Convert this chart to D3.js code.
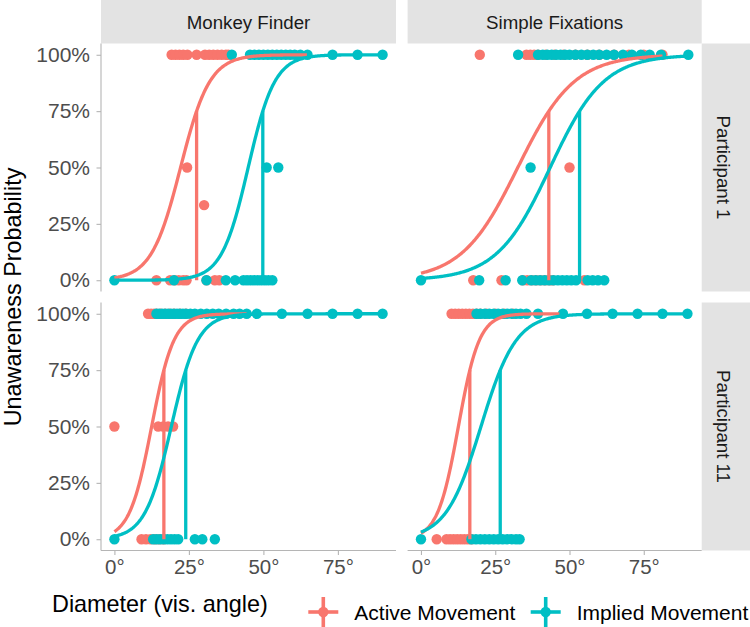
<!DOCTYPE html>
<html>
<head>
<meta charset="utf-8">
<script src="https://cdn.jsdelivr.net/npm/d3@7"></script>
<style>
  body { margin: 0; background: #fff; }
  svg { display: block; font-family: "Liberation Sans", Arial, sans-serif; }
</style>
</head>
<body>
<div id="container"></div>
<script>
// facets + series
let tasks = ["Monkey Finder", "Simple Fixations"];
let participants = ["Participant 1", "Participant 11"];
let conditions = ["Active Movement", "Implied Movement"];
let colors = ["#F8766D", "#00BFC4"];
let xTicks = [0, 25, 50, 75];
let yTicks = [0, 0.25, 0.5, 0.75, 1];

// observed points [diameter, unaware prob]
let mfP1Active = [
  [19.2,1],[20.5,1],[21.8,1],[23.1,1],[24.5,1],[27.6,1],[30.4,1],[31.8,1],[33.2,1],[34.6,1],[36.0,1],[37.4,1],[38.2,1],
  [24.4,0.5],[30.1,1/3],
  [14.1,0],[18.7,0],[20.2,0],[21.6,0],[23.1,0],[24.2,0],[30.9,0],[33.7,0],[35.2,0]
];
let mfP1Implied = [
  [0,0],[20.0,0],[30.9,0],[37.4,0],[40.5,0],[43.3,0],[44.5,0],[45.7,0],[46.9,0],[48.1,0],[49.3,0],[50.5,0],[51.7,0],[53.0,0],
  [51.1,0.5],[55.0,0.5],
  [39.4,1],[45.5,1],[47,1],[48.5,1],[50,1],[51.5,1],[53,1],[54.5,1],[56,1],[57.5,1],[59,1],[60.5,1],[62.4,1],[64.8,1],[73.2,1],[81.6,1],[90,1]
];
let sfP1Active = [
  [19.8,1],[35.5,1],[36.8,1],[38.1,1],[39.4,1],[42,1],[45,1],[48,1],[52,1],[56,1],[60,1],[65,1],[70,1],[75,1],[81.3,1],
  [50.0,0.5],
  [17.6,0],[27.1,0],[34.3,0],[35.8,0],[37.3,0],[38.8,0],[40.3,0],[41.8,0],[43.3,0],[44.4,0],[55.0,0]
];
let sfP1Implied = [
  [32.7,1],[39.4,1],[41,1],[42.5,1],[44,1],[45.5,1],[47,1],[48.5,1],[50,1],[52,1],[54,1],[56,1],[58,1],[60,1],[62.5,1],[65,1],[68,1],[71,1],[74,1],[77,1],[80.8,1],[90,1],
  [36.9,0.5],
  [0,0],[19.6,0],[28.5,0],[34.1,0],[37.1,0],[38.6,0],[40.1,0],[41.6,0],[43.1,0],[44.6,0],[46.1,0],[47.6,0],[49.1,0],[50.6,0],[52.2,0],[56.1,0],[57.8,0],[59.6,0],[61.7,0]
];
let mfP11Active = [
  [11.3,1],[12.3,1],[13.3,1],[14.1,1],[15.5,1],[17,1],[18.5,1],[20,1],[22,1],[24,1],
  [0,0.5],[14.7,0.5],[16.4,0.5],[18,0.5],[19.7,0.5],
  [9.1,0],[10.6,0],[12.1,0],[13.6,0],[15,0],[16.5,0]
];
let mfP11Implied = [
  [14.1,1],[15,1],[16,1],[17,1],[18,1],[19,1],[20,1],[21,1],[22,1],[23,1],[24,1],[25.5,1],[27,1],[29,1],[31,1],[33,1],[35,1],[37.5,1],[40,1],[42,1],[44.4,1],[47.8,1],[56.2,1],[64.8,1],[73.2,1],[81.6,1],[90,1],
  [0,0],[13.0,0],[14.2,0],[15.4,0],[16.6,0],[17.8,0],[19.0,0],[20.2,0],[21.4,0],[27.0,0],[29.5,0],[33.7,0]
];
let sfP11Active = [
  [10.3,1],[11.5,1],[12.7,1],[13.9,1],[15.1,1],[16.3,1],[17.5,1],[18.7,1],[20,1],[22,1],[25,1],[28,1],[31,1],
  [5.3,0],[8.6,0],[9.8,0],[11,0],[12.2,0],[13.4,0],[14.6,0],[15.8,0],[17.0,0]
];
let sfP11Implied = [
  [18.7,1],[20,1],[21.5,1],[23,1],[24.5,1],[26,1],[27.5,1],[29,1],[30.5,1],[32,1],[33.5,1],[35.5,1],[39.4,1],[47.8,1],[55.9,1],[64.5,1],[72.9,1],[81.3,1],[89.7,1],
  [0,0],[17.0,0],[18.5,0],[20,0],[21.5,0],[23,0],[24.5,0],[26,0],[27.5,0],[29,0],[30.5,0],[32,0],[33.2,0]
];

// logistic fits per panel: [active, implied]
let fitMid   = [[22.2, 44.9], [32.6, 43.5], [12.5, 19.1], [12.6, 20.2]];
let fitScale = [[4.9, 4.46], [9.5, 9.0], [3.73, 4.4], [3.5, 5.9]];
let fitEnd   = [[64.6, 90], [81.3, 90], [44.4, 90], [46.6, 90]];

let panelPoints = [
  [mfP1Active, mfP1Implied], [sfP1Active, sfP1Implied],
  [mfP11Active, mfP11Implied], [sfP11Active, sfP11Implied]
];

let w = 750;
let h = 627;
let viz = d3.select("#container").append("svg")
    .attr("width", w)
    .attr("height", h);

let colX = [[101, 396], [407.6, 701.7]];
let rowY = [[43.5, 291.5], [302.5, 550.5]];
let axisGrey = "#b5b5b5";

function logistic(x, m, s) { return 1 / (1 + Math.exp(-(x - m) / s)); }

// strips on top
tasks.forEach((t, c) => {
  viz.append("rect")
    .attr("x", colX[c][0]).attr("y", 0)
    .attr("width", colX[c][1] - colX[c][0]).attr("height", 43.5)
    .attr("fill", "#e3e3e3");
  viz.append("text")
    .text(t)
    .attr("x", (colX[c][0] + colX[c][1]) / 2)
    .attr("y", 29)
    .attr("text-anchor", "middle")
    .attr("font-size", 18.7)
    .attr("fill", "#1a1a1a");
});
// strips on right
participants.forEach((p, r) => {
  viz.append("rect")
    .attr("x", 701.7).attr("y", rowY[r][0])
    .attr("width", 50).attr("height", rowY[r][1] - rowY[r][0])
    .attr("fill", "#e3e3e3");
  viz.append("text")
    .text(p)
    .attr("transform", "translate(716.5," + ((rowY[r][0] + rowY[r][1]) / 2) + ") rotate(90)")
    .attr("text-anchor", "middle")
    .attr("font-size", 18.7)
    .attr("fill", "#1a1a1a");
});

for (let r = 0; r < 2; r++) {
  for (let c = 0; c < 2; c++) {
    let i = r * 2 + c;
    let x = d3.scaleLinear().domain([-4.5, 94.5]).range(colX[c]);
    let y = d3.scaleLinear().domain([-0.05, 1.05]).range([rowY[r][1], rowY[r][0]]);
    let g = viz.append("g");

    if (c == 0) {
      let ya = g.append("g")
        .attr("transform", "translate(" + colX[c][0] + ",0)")
        .call(d3.axisLeft(y).tickValues(yTicks).tickFormat(d3.format(".0%")).tickSize(4.5).tickPadding(6.5));
      ya.selectAll("text").attr("font-size", 21).attr("fill", "#4d4d4d")
        .attr("font-family", "Liberation Sans, Arial, sans-serif");
    }
    if (r == 1) {
      let xa = g.append("g")
        .attr("transform", "translate(0," + rowY[r][1] + ")")
        .call(d3.axisBottom(x).tickValues(xTicks).tickFormat(d => d + "°").tickSize(4.5).tickPadding(4));
      xa.selectAll("text").attr("font-size", 20.5).attr("fill", "#4d4d4d")
        .attr("font-family", "Liberation Sans, Arial, sans-serif");
    }
    g.selectAll(".domain").attr("d", null);
    g.selectAll(".tick line").attr("stroke", axisGrey).attr("stroke-width", 1.1);
    // axis lines span the whole panel
    if (c == 0) {
      g.append("line")
        .attr("x1", colX[c][0]).attr("x2", colX[c][0])
        .attr("y1", rowY[r][0]).attr("y2", rowY[r][1])
        .attr("stroke", axisGrey).attr("stroke-width", 1.1);
    }
    if (r == 1) {
      g.append("line")
        .attr("x1", colX[c][0]).attr("x2", colX[c][1])
        .attr("y1", rowY[r][1]).attr("y2", rowY[r][1])
        .attr("stroke", axisGrey).attr("stroke-width", 1.1);
    }

    // points
    conditions.forEach((cond, k) => {
      g.append("g").selectAll("circle")
        .data(panelPoints[i][k])
        .join("circle")
        .attr("cx", d => x(d[0]))
        .attr("cy", d => y(d[1]))
        .attr("r", 5.2)
        .attr("fill", colors[k]);
    });

    // fitted curves + 75% threshold
    conditions.forEach((cond, k) => {
      let m = fitMid[i][k], s = fitScale[i][k];
      let xs = d3.range(0, fitEnd[i][k], 0.25).concat([fitEnd[i][k]]);
      g.append("path")
        .datum(xs)
        .attr("fill", "none")
        .attr("stroke", colors[k])
        .attr("stroke-width", 3.3)
        .attr("d", d3.line().x(d => x(d)).y(d => y(logistic(d, m, s))));
      let thr = m + s * Math.log(3);
      g.append("line")
        .attr("x1", x(thr)).attr("x2", x(thr))
        .attr("y1", y(0)).attr("y2", y(0.75))
        .attr("stroke", colors[k])
        .attr("stroke-width", 3.3);
    });
  }
}

// axis titles
viz.append("text")
  .text("Unawareness Probability")
  .attr("transform", "translate(21,297) rotate(-90)")
  .attr("text-anchor", "middle")
  .attr("font-size", 23.4)
  .attr("fill", "#000");
viz.append("text")
  .text("Diameter (vis. angle)")
  .attr("x", 52)
  .attr("y", 611.5)
  .attr("font-size", 23.4)
  .attr("fill", "#000");

// legend
let legX = [323.3, 545.7];
conditions.forEach((cond, k) => {
  let lg = viz.append("g");
  lg.append("line")
    .attr("x1", legX[k] - 15).attr("x2", legX[k] + 15)
    .attr("y1", 612).attr("y2", 612)
    .attr("stroke", colors[k]).attr("stroke-width", 3.6);
  lg.append("line")
    .attr("x1", legX[k]).attr("x2", legX[k])
    .attr("y1", 597).attr("y2", 627)
    .attr("stroke", colors[k]).attr("stroke-width", 3.6);
  lg.append("circle")
    .attr("cx", legX[k]).attr("cy", 612).attr("r", 5.2)
    .attr("fill", colors[k]);
  lg.append("text")
    .text(cond)
    .attr("x", legX[k] + 31)
    .attr("y", 619.5)
    .attr("font-size", 21)
    .attr("fill", "#000");
});
</script>
</body>
</html>
